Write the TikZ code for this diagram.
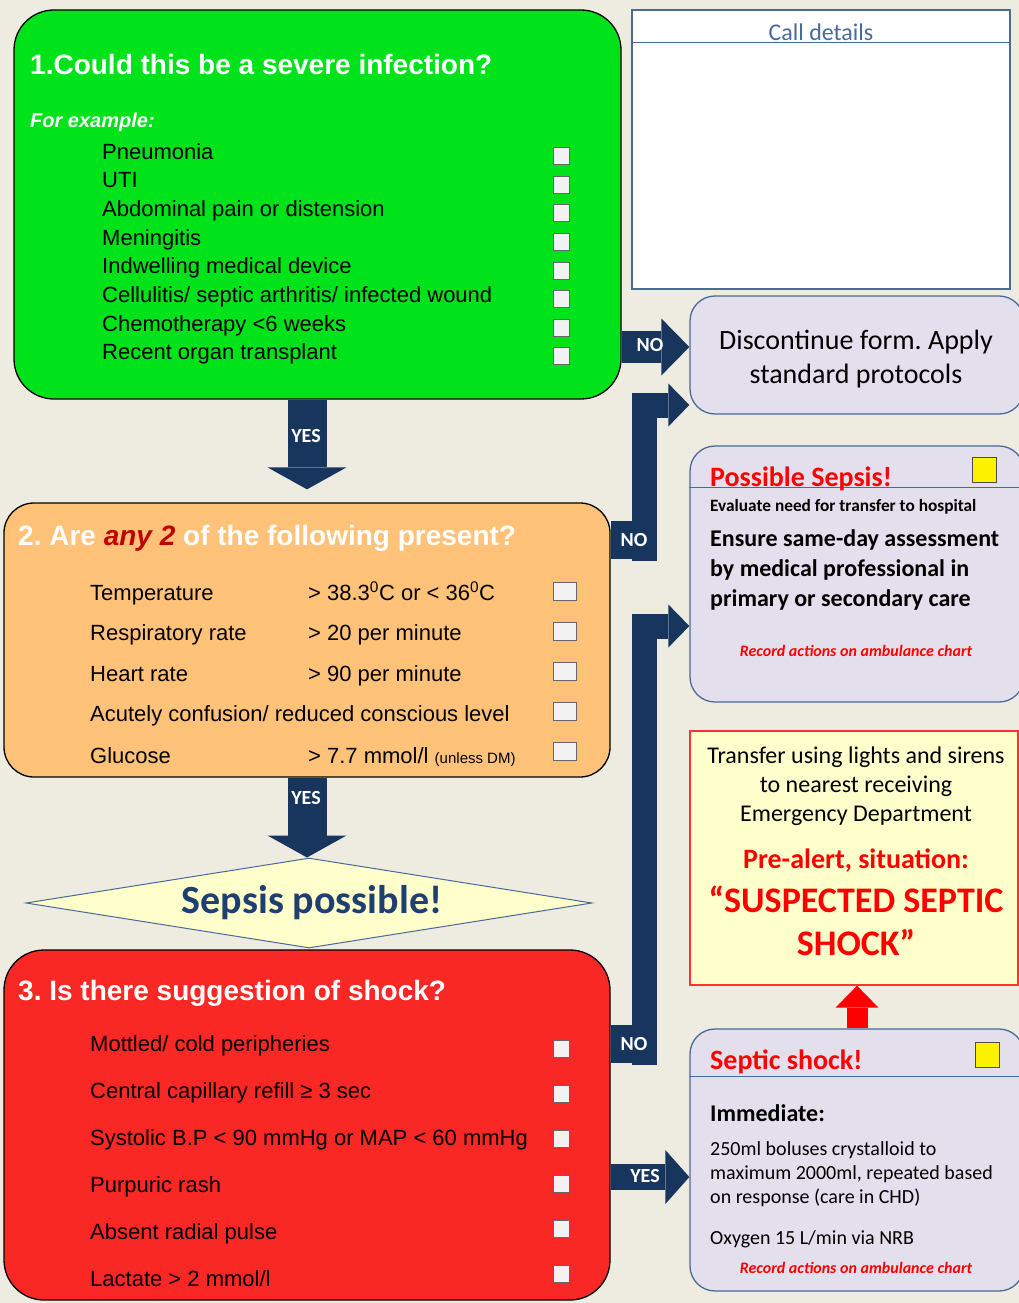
\documentclass[tikz,border=0pt]{standalone}
\usepackage{fontspec}
\setmainfont{Liberation Sans}
\newfontfamily\calfont{Carlito}
\usetikzlibrary{arrows.meta,shapes.geometric,positioning}
\frenchspacing
\definecolor{bgbeige}{RGB}{238,235,224}
\definecolor{qgreen}{RGB}{0,226,25}
\definecolor{qorange}{RGB}{255,194,120}
\definecolor{qred}{RGB}{250,40,36}
\definecolor{lav}{RGB}{228,223,236}
\definecolor{frameblue}{RGB}{74,106,154}
\definecolor{navy}{RGB}{24,54,93}
\definecolor{paleyel}{RGB}{255,255,204}
\definecolor{sepsisblue}{RGB}{31,63,115}
\definecolor{darkred}{RGB}{192,0,0}
\definecolor{alertred}{RGB}{255,0,0}
\definecolor{chkgray}{RGB}{242,242,242}
\begin{document}
\begin{tikzpicture}[x=1pt, y=-1pt, every node/.style={inner sep=0pt},
  qbox/.style={draw=black, line width=1.3pt, rounded corners=40pt},
  lavbox/.style={draw=frameblue, fill=lav, line width=1.3pt, rounded corners=25pt},
  head/.style={anchor=base west, text=white, font=\bfseries\fontsize{28}{32}\selectfont},
  item/.style={anchor=base west, font=\fontsize{22}{26}\selectfont},
  chk/.style={draw=black!60, fill=chkgray, line width=0.8pt, minimum width=16pt, minimum height=17pt},
  chkwide/.style={chk, minimum width=23pt, minimum height=18pt},
  yelchk/.style={draw=black!70, fill=yellow, line width=0.8pt, minimum width=24pt, minimum height=25pt},
  arrowlabel/.style={text=white, font=\calfont\bfseries\fontsize{20}{24}\selectfont},
  nobox/.style={arrowlabel, fill=navy, minimum width=46pt, minimum height=38pt},
  yesdown/.style={navy, line width=39pt, -{Triangle[width=79pt, length=22pt, line width=0pt]}},
  sidearrow/.style={navy, line width=32pt, -{Triangle[width=57pt, length=28pt, line width=0pt]}},
  bentarrow/.style={navy, line width=25pt, line join=miter, -{Triangle[width=43pt, length=21pt, line width=0pt]}},
  yesright/.style={navy, line width=26pt, -{Triangle[width=54pt, length=24pt, line width=0pt]}},
  uparrow/.style={alertred, line width=21pt, -{Triangle[width=43pt, length=22pt, line width=0pt]}}]
  \fill[bgbeige] (0,0) rectangle (1019,1303);
  \useasboundingbox (0,0) rectangle (1019,1303);

  % question boxes
  \node[qbox, fill=qgreen, minimum width=607pt, minimum height=389pt] (q1) at (317.5,204.5) {};
  \node[qbox, rounded corners=30pt, fill=qorange, minimum width=606pt, minimum height=274pt] (q2) at (307,640) {};
  \node[diamond, draw=frameblue, fill=paleyel, line width=1pt, aspect=6.3,
        minimum width=566pt, minimum height=90pt, text=sepsisblue,
        font=\calfont\bfseries\fontsize{40}{44}\selectfont] (sp) at (309,903) {\hspace*{6pt}Sepsis possible!};
  \node[qbox, fill=qred, minimum width=606pt, minimum height=350pt] (q3) at (307,1125) {};

  % right column
  \node[draw=frameblue, fill=white, line width=1.3pt, minimum width=378pt, minimum height=279pt] (cd) at (821,149.5) {};
  \draw[frameblue, line width=1.3pt] ([yshift=-33pt]cd.north west) -- ([yshift=-33pt]cd.north east);
  \node[lavbox, minimum width=334pt, minimum height=118pt] (disc) at (857,355) {};
  \node[lavbox, minimum width=334pt, minimum height=256pt] (ps) at (857,574) {};
  \draw[frameblue, line width=1.3pt] ([yshift=-42pt]ps.north west) -- ([yshift=-42pt]ps.north east);
  \node[draw=alertred!80, fill=paleyel, line width=1.3pt, minimum width=328pt, minimum height=254pt] (tr) at (854,858) {};
  \node[lavbox, minimum width=334pt, minimum height=262pt] (ss) at (857,1160) {};
  \draw[frameblue, line width=1.3pt] ([yshift=-48pt]ss.north west) -- ([yshift=-48pt]ss.north east);

  % block arrows
  \draw[yesdown] (q1.south -| q2.north) -- ([yshift=13pt]q2.north);
  \draw[yesdown] (q2.south) -- (q2.south |- sp.north);
  \draw[sidearrow] ([yshift=8pt]disc.west -| q1.east) -- ([yshift=8pt]disc.west);
  \coordinate (n2) at (644,561);
  \draw[bentarrow] (n2) |- ([yshift=-50pt]disc.west);
  \coordinate (n3) at (644,1065);
  \draw[bentarrow] (n3) |- ([yshift=-52pt]ps.west);
  \draw[yesright] ([yshift=-17pt]ss.west -| q3.east) -- ([yshift=-17pt]ss.west);
  \draw[uparrow] (ss.north) -- (ss.north |- tr.south);
  \node[arrowlabel] (yes1) at (306,436) {YES};
  \node[arrowlabel] (yes2) at (306,798) {YES};
  \node[arrowlabel] (no1) at (650,345) {NO};
  \node[nobox] (no2) at (634,540) {NO};
  \node[nobox] (no3) at (634,1044) {NO};
  \node[arrowlabel] (yes3) at (645,1176) {YES};

  % box 1
  \node[head] (t1) at (30,75) {1.Could this be a severe infection?};
  \node[anchor=base west, text=white, font=\bfseries\itshape\fontsize{20}{24}\selectfont] (fe) at (30,128) {For example:};
  \foreach \txt [count=\i from 0] in {Pneumonia, UTI, Abdominal pain or distension, Meningitis,
      Indwelling medical device, Cellulitis/ septic arthritis/ infected wound,
      Chemotherapy <6 weeks, Recent organ transplant} {
    \node[item] (a\i) at (102,{159+28.7*\i}) {\txt};
    \node[chk] (ca\i) at (561,{156+28.6*\i}) {};
  }

  % box 2
  \node[head] (t2) at (18,545) {2. Are \textcolor{darkred}{\itshape any 2} of the following present?};
  \node[item] (b0) at (90,600) {Temperature};
  \node[item] (v0) at (308,600) {> 38.3\textsuperscript{0}C or < 36\textsuperscript{0}C};
  \node[item] (b1) at (90,640) {Respiratory rate};
  \node[item] (v1) at (308,640) {> 20 per minute};
  \node[item] (b2) at (90,681) {Heart rate};
  \node[item] (v2) at (308,681) {> 90 per minute};
  \node[item] (b3) at (90,721) {Acutely confusion/ reduced conscious level};
  \node[item] (b4) at (90,763) {Glucose};
  \node[item] (v4) at (308,763) {> 7.7 mmol/l {\fontsize{15}{18}\selectfont (unless DM)}};
  \foreach \i in {0,...,4}
    \node[chkwide] (cb\i) at (564.5,{591+40*\i}) {};

  % box 3
  \node[head] (t3) at (18,1000) {3. Is there suggestion of shock?};
  \foreach \txt [count=\i from 0] in {Mottled/ cold peripheries, Central capillary refill ≥ 3 sec,
      Systolic B.P < 90 mmHg or MAP < 60 mmHg, Purpuric rash, Absent radial pulse,
      Lactate > 2 mmol/l} {
    \node[item] (c\i) at (90,{1051+47*\i}) {\txt};
    \node[chk] (cc\i) at (561,{1049+45*\i}) {};
  }

  % right column texts
  \node[text=frameblue, font=\calfont\fontsize{24}{28}\selectfont] (cdt) at (821,32) {Call details};
  \node[align=center, font=\calfont\fontsize{28}{34}\selectfont] (dt) at (856,359) {Discontinue form. Apply\\standard protocols};

  \node[anchor=base west, text=alertred, font=\calfont\bfseries\fontsize{28}{32}\selectfont] (pst) at (710,486) {Possible Sepsis!};
  \node[yelchk] (psc) at (984,470) {};
  \node[anchor=base west, font=\calfont\bfseries\fontsize{17.3}{20}\selectfont] (ev) at (710,511) {Evaluate need for transfer to hospital};
  \node[anchor=west, align=left, font=\calfont\bfseries\fontsize{24}{30}\selectfont] (en) at (710,570) {Ensure same-day assessment\\by medical professional in\\primary or secondary care};
  \node[text=alertred, font=\calfont\bfseries\itshape\fontsize{16}{18}\selectfont] (rec1) at (856,651) {Record actions on ambulance chart};

  \node[align=center, font=\calfont\fontsize{24}{29}\selectfont] (trt) at (856,786) {Transfer using lights and sirens\\to nearest receiving\\Emergency Department};
  \node[text=alertred, font=\calfont\bfseries\fontsize{28}{32}\selectfont] (pa) at (856,861) {Pre-alert, situation:};
  \node[align=center, text=alertred, font=\calfont\bfseries\fontsize{36}{43}\selectfont] (sus) at (856,921) {“SUSPECTED SEPTIC\\SHOCK”};

  \node[anchor=base west, text=alertred, font=\calfont\bfseries\fontsize{28}{32}\selectfont] (sst) at (710,1069) {Septic shock!};
  \node[yelchk] (ssc) at (987,1055) {};
  \node[anchor=base west, font=\calfont\bfseries\fontsize{24}{28}\selectfont] (im) at (710,1121) {Immediate:};
  \node[anchor=west, align=left, font=\calfont\fontsize{20}{24}\selectfont] (bol) at (710,1174) {250ml boluses crystalloid to\\maximum 2000ml, repeated based\\on response (care in CHD)};
  \node[anchor=base west, font=\calfont\fontsize{20}{24}\selectfont] (ox) at (710,1244) {Oxygen 15 L/min via NRB};
  \node[text=alertred, font=\calfont\bfseries\itshape\fontsize{16}{18}\selectfont] (rec2) at (856,1268) {Record actions on ambulance chart};
\end{tikzpicture}
\end{document}
